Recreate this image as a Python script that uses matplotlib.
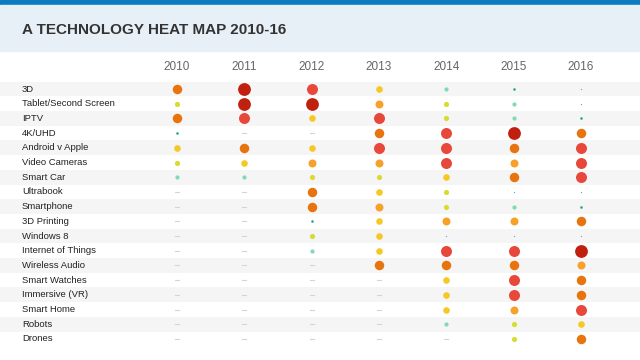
import numpy as np
import matplotlib
matplotlib.use("Agg")
import matplotlib.pyplot as plt
from matplotlib.patches import Rectangle

plt.rcParams['font.family'] = ['Liberation Sans', 'DejaVu Sans']

# data: heat level per technology and year (0 = no entry)
years = ["2010", "2011", "2012", "2013", "2014", "2015", "2016"]
techs = ["3D", "Tablet/Second Screen", "IPTV", "4K/UHD", "Android v Apple",
         "Video Cameras", "Smart Car", "Ultrabook", "Smartphone", "3D Printing",
         "Windows 8", "Internet of Things", "Wireless Audio", "Smart Watches",
         "Immersive (VR)", "Smart Home", "Robots", "Drones"]
levels = [
    [7, 9, 8, 5, 3, 2, 1],
    [4, 9, 9, 6, 4, 3, 1],
    [7, 8, 5, 8, 4, 3, 2],
    [2, 0, 0, 7, 8, 9, 7],
    [5, 7, 5, 8, 8, 7, 8],
    [4, 5, 6, 6, 8, 6, 8],
    [3, 3, 4, 4, 5, 7, 8],
    [0, 0, 7, 5, 4, 1, 1],
    [0, 0, 7, 6, 4, 3, 2],
    [0, 0, 2, 5, 6, 6, 7],
    [0, 0, 4, 5, 1, 1, 1],
    [0, 0, 3, 5, 8, 8, 9],
    [0, 0, 0, 7, 7, 7, 6],
    [0, 0, 0, 0, 5, 8, 7],
    [0, 0, 0, 0, 5, 8, 7],
    [0, 0, 0, 0, 5, 6, 8],
    [0, 0, 0, 0, 3, 4, 5],
    [0, 0, 0, 0, 0, 4, 7],
]

level_colors = {1: "#6aa8c8", 2: "#2ba38b", 3: "#80dcb0", 4: "#d9dc30", 5: "#f5c823",
                6: "#f5a12a", 7: "#e8740f", 8: "#e8483b", 9: "#c0210f"}
level_diam = {1: 1.3, 2: 2.6, 3: 4.2, 4: 5.2, 5: 6.6, 6: 8.0, 7: 9.5, 8: 11.0, 9: 12.8}

W, H = 640, 360
fig = plt.figure(figsize=(6.4, 3.6), dpi=100)
fig.patch.set_facecolor("white")

# header
fig.patches.append(Rectangle((0, 1 - 5 / H), 1, 5 / H, transform=fig.transFigure,
                             color="#0b7cc2", zorder=0))
fig.patches.append(Rectangle((0, 1 - 51 / H), 1, 46 / H, transform=fig.transFigure,
                             color="#e8f0f7", zorder=0))
fig.text(22 / W, 1 - 30 / H, "A TECHNOLOGY HEAT MAP 2010-16", fontsize=11,
         fontweight="bold", color="#333333", va="center", ha="left")

# table axes
row_h = 14.7
top = 89 - row_h / 2
n = len(techs)
ax = fig.add_axes([0, 1 - (top + n * row_h) / H, 1, n * row_h / H])
x0, dx = 177, 67.3
ax.set_xlim(-x0 / dx, (W - x0) / dx)
ax.set_ylim(n - 0.5, -0.5)
ax.axis("off")

for j in range(n):
    if j % 2 == 0:
        ax.axhspan(j - 0.5, j + 0.5, color="#f5f5f5", lw=0, zorder=0)

lx = ax.get_xlim()[0] + 22 / dx
for j, t in enumerate(techs):
    ax.text(lx, j, t, fontsize=6.8, color="#222222", va="center", ha="left")

for i, y in enumerate(years):
    ax.text(i, -1.5, y, fontsize=8.5, color="#666666", va="center", ha="center",
            clip_on=False)

lv = np.array(levels)
for lvl in range(1, 10):
    jj, ii = np.where(lv == lvl)
    ax.scatter(ii, jj, s=(level_diam[lvl] * 0.72) ** 2, color=level_colors[lvl],
               linewidths=0, zorder=3)

jj, ii = np.where(lv == 0)
for i, j in zip(ii, jj):
    ax.plot([i - 0.03, i + 0.03], [j, j], color="#d5d5d5", lw=0.8, zorder=2)

fig.savefig("out.png", dpi=100)
